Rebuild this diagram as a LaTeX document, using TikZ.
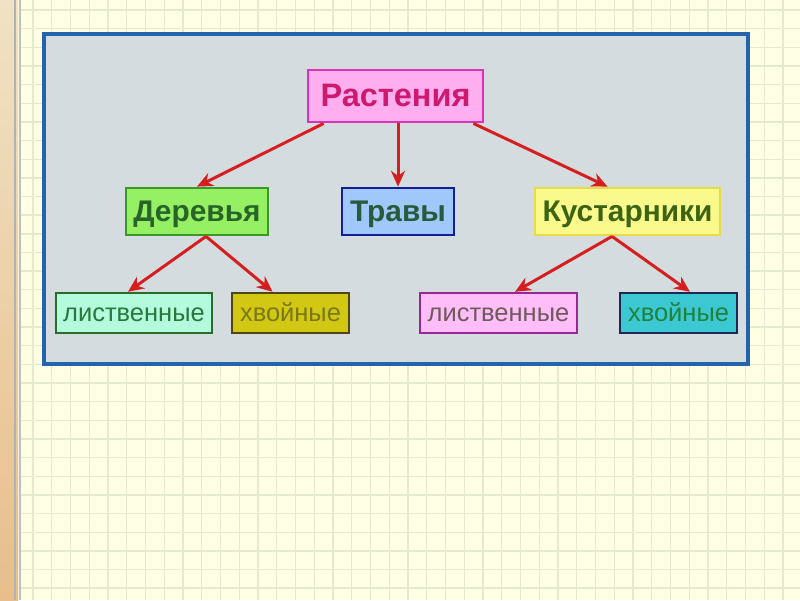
\documentclass[tikz,border=0pt]{standalone}
\usepackage{fontspec}
\setmainfont{Liberation Sans}
\usetikzlibrary{arrows.meta}

\definecolor{paper}{RGB}{255,255,228}
\definecolor{gridline}{RGB}{230,234,205}
\definecolor{panelfill}{RGB}{212,220,224}
\definecolor{panelline}{RGB}{35,100,170}
\definecolor{arrowred}{RGB}{215,30,30}

\tikzset{
  box/.style={draw, rectangle, line width=1.6pt, inner sep=0pt, minimum height=0.94cm, text height=12.2pt, text depth=0.5pt, font=\bfseries\fontsize{17}{20}\selectfont},
  smallbox/.style={draw, rectangle, line width=1.4pt, inner sep=0pt, minimum height=0.8cm, text height=9.4pt, text depth=0pt, font=\fontsize{14.5}{17}\selectfont},
  link/.style={arrowred, line width=1.7pt, -{Stealth[length=9pt,width=8pt]}}
}

\begin{document}
\begin{tikzpicture}[x=0.02cm, y=-0.02cm]
        \useasboundingbox (0,0) rectangle (800,600);
        % paper with grid
        \fill[paper] (0,0) rectangle (800,600);
        \foreach \i in {0,...,41}
            \draw[gridline, line width=0.8pt] (33+18.75*\i,0) -- (33+18.75*\i,600);
        \foreach \j in {0,...,32}
            \draw[gridline, line width=0.8pt] (20,10+18.65*\j) -- (800,10+18.65*\j);
        % left strip
        \shade[top color={rgb,255:red,240;green,226;blue,196}, bottom color={rgb,255:red,232;green,190;blue,140}] (0,0) rectangle (18,600);
        \draw[gray!60, line width=0.8pt] (15,0) -- (15,600);
        \draw[gray!50, line width=1.2pt] (20,0) -- (20,600);

        % panel
        \draw[panelline, fill=panelfill, line width=2.4pt] (44,34) rectangle (748,364);

        % nodes
        \node[box, minimum width=3.5cm, minimum height=1.04cm, text height=13.3pt, text depth=1pt, fill={rgb,255:red,255;green,175;blue,240}, draw={rgb,255:red,220;green,50;blue,180}, text={rgb,255:red,205;green,25;blue,110}, font=\bfseries\fontsize{18.5}{22}\selectfont] (root) at (395.5,96) {Растения};
        \node[box, minimum width=2.84cm, fill={rgb,255:red,150;green,240;blue,100}, draw={rgb,255:red,60;green,150;blue,40}, text={rgb,255:red,40;green,100;blue,40}] (dere) at (197,211.5) {Деревья};
        \node[box, minimum width=2.24cm, fill={rgb,255:red,160;green,200;blue,250}, draw={rgb,255:red,20;green,30;blue,150}, text={rgb,255:red,40;green,90;blue,60}] (travy) at (398,211.5) {Травы};
        \node[box, minimum width=3.7cm, fill={rgb,255:red,250;green,250;blue,140}, draw={rgb,255:red,232;green,220;blue,70}, text={rgb,255:red,60;green,100;blue,20}] (kust) at (627.5,211.5) {Кустарники};

        \node[smallbox, minimum width=3.12cm, fill={rgb,255:red,180;green,250;blue,220}, draw={rgb,255:red,40;green,110;blue,40}, text={rgb,255:red,40;green,120;blue,60}] (listL) at (134,313) {лиственные};
        \node[smallbox, minimum width=2.34cm, fill={rgb,255:red,210;green,200;blue,20}, draw={rgb,255:red,80;green,70;blue,20}, text={rgb,255:red,120;green,120;blue,20}] (hvL) at (290.5,313) {хвойные};
        \node[smallbox, minimum width=3.14cm, fill={rgb,255:red,255;green,190;blue,250}, draw={rgb,255:red,150;green,40;blue,150}, text={rgb,255:red,110;green,90;blue,90}] (listR) at (498.5,313) {лиственные};
        \node[smallbox, minimum width=2.34cm, fill={rgb,255:red,60;green,200;blue,210}, draw={rgb,255:red,30;green,40;blue,80}, text={rgb,255:red,30;green,130;blue,60}] (hvR) at (678.5,313) {хвойные};

        % arrows
        \draw[link] ([xshift=0.34cm]root.south west) -- (dere.north);
        \draw[link] (travy.north |- root.south) -- (travy.north);
        \draw[link] ([xshift=-0.22cm]root.south east) -- ([xshift=-0.4cm]kust.north);
        \draw[link] ([xshift=0.18cm]dere.south) -- ([xshift=-0.12cm]listL.north);
        \draw[link] ([xshift=0.18cm]dere.south) -- ([xshift=-0.36cm]hvL.north);
        \draw[link] ([xshift=-0.31cm]kust.south) -- ([xshift=0.33cm]listR.north);
        \draw[link] ([xshift=-0.31cm]kust.south) -- ([xshift=0.23cm]hvR.north);
    \end{tikzpicture}
\end{document}
